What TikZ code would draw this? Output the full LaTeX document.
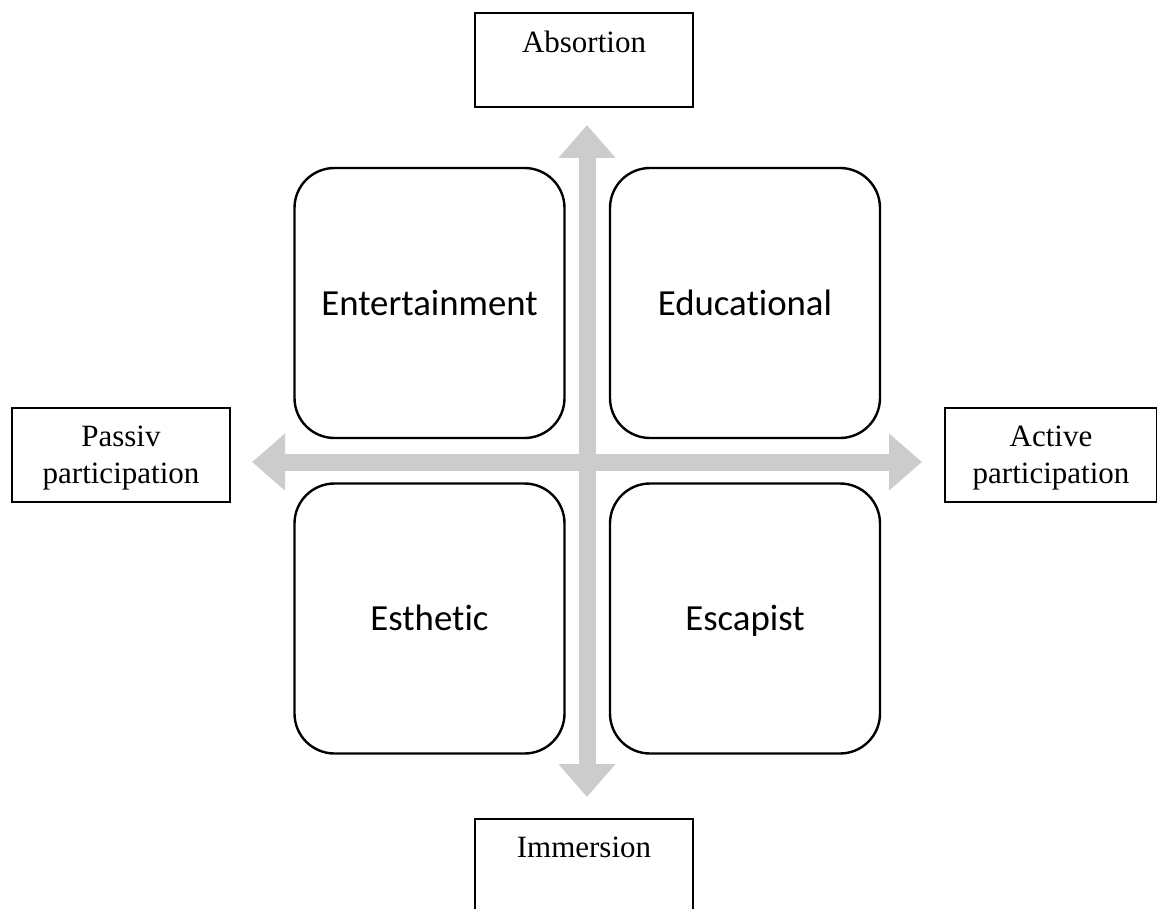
\documentclass[tikz,border=0pt]{standalone}
\usepackage{fontspec}
\setmainfont{Liberation Serif}
\newfontfamily\quadfont[Ligatures=NoCommon]{Carlito}
\usetikzlibrary{arrows.meta}

\tikzset{
    quadbox/.style={draw, fill=white, line width=1.2pt, rounded corners=20pt,
        minimum width=135pt, minimum height=135pt, inner sep=0pt,
        text height=13pt, text depth=1pt,
        font=\quadfont\fontsize{18.4pt}{22pt}\selectfont},
    axisbox/.style={draw, fill=white, line width=0.6pt, align=center,
        minimum width=109pt, minimum height=47pt, inner sep=0pt, text depth=0pt,
        font=\fontsize{15.5pt}{18.5pt}\selectfont},
    axisarrow/.style={draw=gray!40, line width=8.5pt,
        arrows={Triangle[length=16.5pt,width=27.5pt]-Triangle[length=16.5pt,width=27.5pt]}}
}

\begin{document}
\begin{tikzpicture}[x=0.5pt, y=-0.5pt]
    \useasboundingbox (0,0) rectangle (1157,909);
    % the two axes
    \coordinate (ntip) at (587,125);
    \coordinate (stip) at (587,797);
    \coordinate (wtip) at (252,462);
    \coordinate (etip) at (922,462);
    \draw[axisarrow] (ntip) -- (stip);
    \draw[axisarrow] (wtip) -- (etip);
    % four realms
    \node[quadbox] (entert) at (429.5,303) {Entertainment};
    \node[quadbox] (educ) at (745,303) {Educational};
    \node[quadbox] (esthet) at (429.5,618.5) {Esthetic};
    \node[quadbox] (escap) at (745,618.5) {Escapist};
    % axis labels
    \node[axisbox] (absorb) at (584,60) {Absortion\\\strut};
    \node[axisbox] (immers) at (584,866) {Immersion\\\strut};
    \node[axisbox] (passiv) at (121,455) {Passiv\\participation};
    \node[axisbox, minimum width=106pt] (active) at (1051,455) {Active\\participation};
\end{tikzpicture}
\end{document}
